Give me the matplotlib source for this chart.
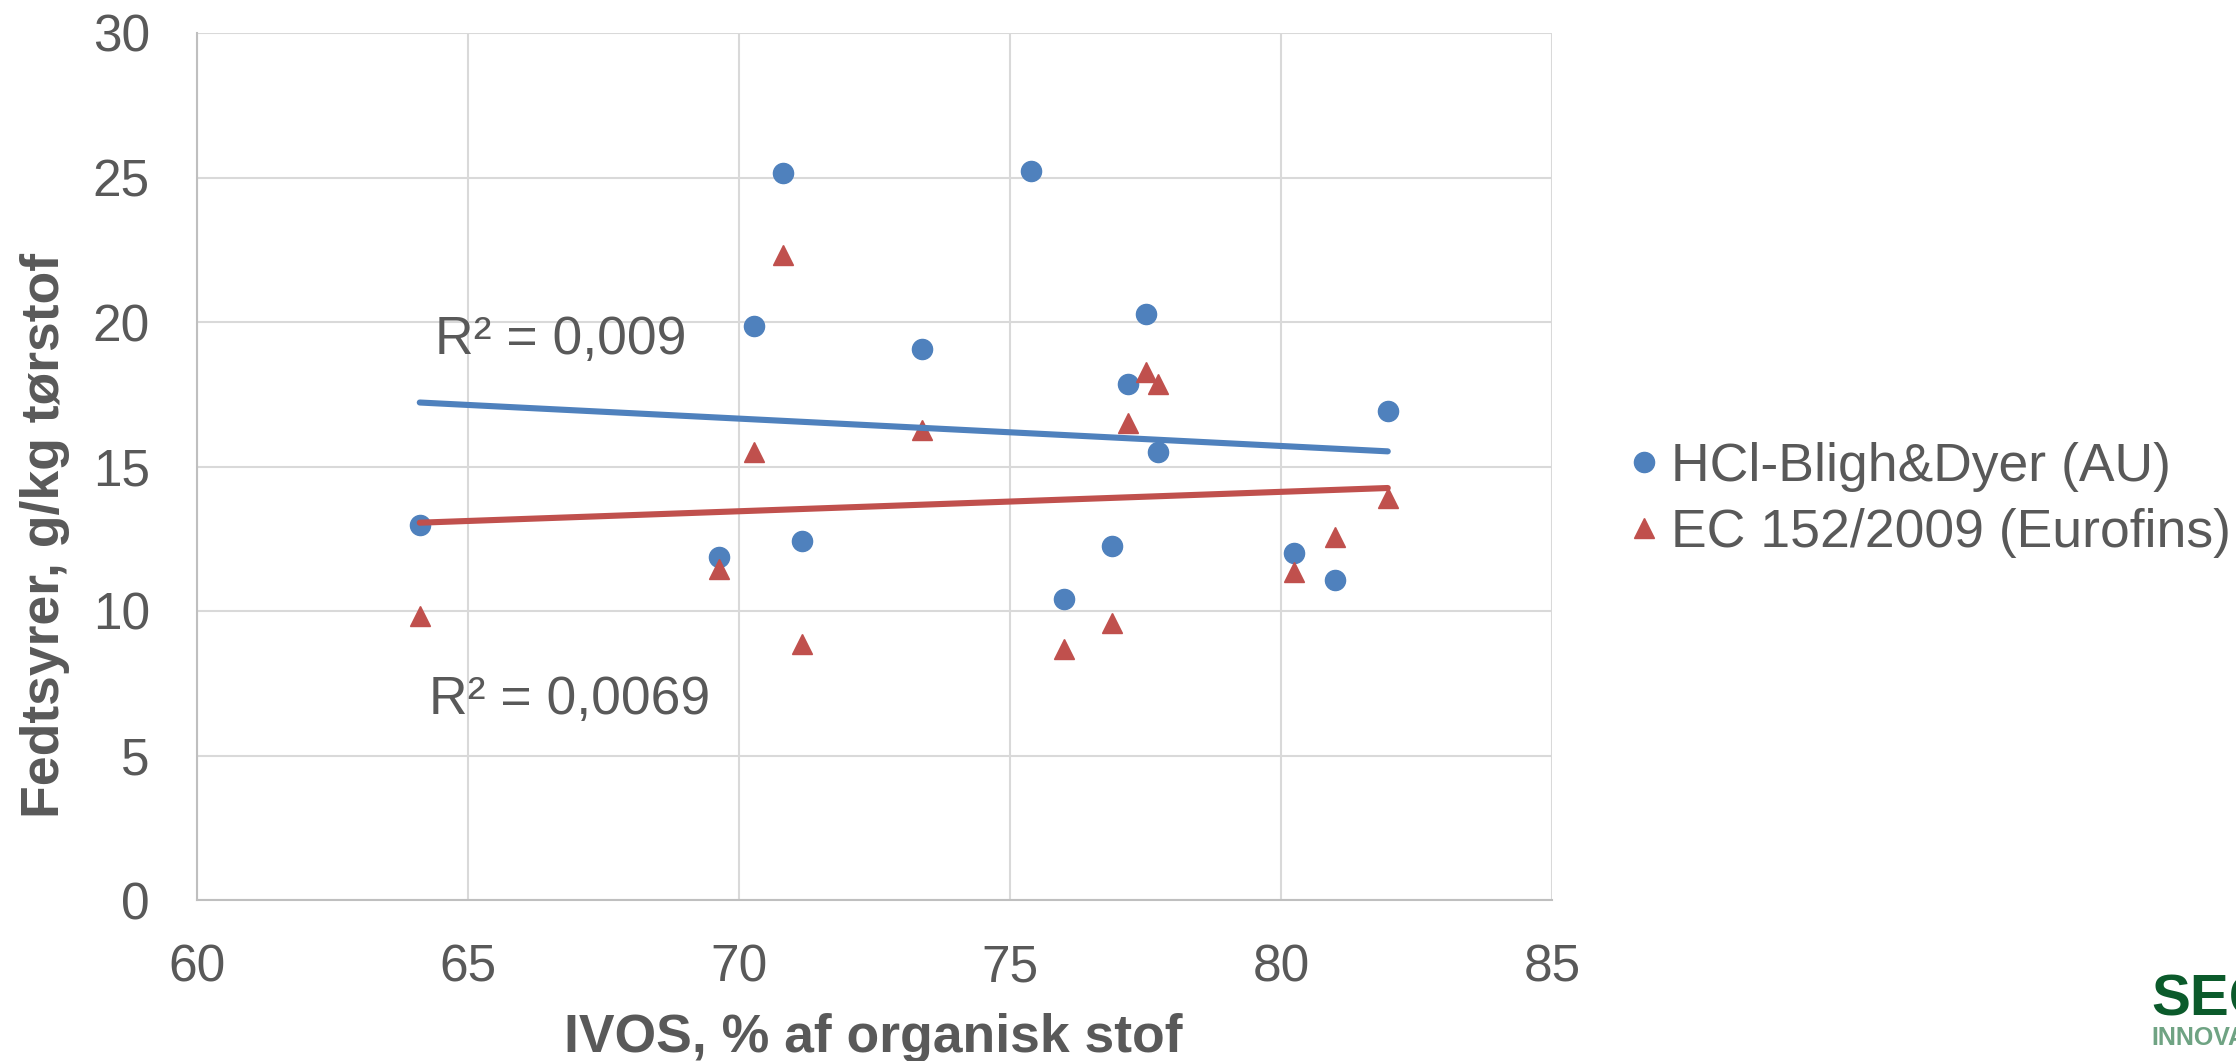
import numpy as np
import matplotlib
matplotlib.use("Agg")
import matplotlib.pyplot as plt

plt.rcParams['font.family'] = ['Liberation Sans', 'DejaVu Sans']

# IVOS (% of organic matter) for each sample
ivos = [64.11, 69.64, 70.27, 70.82, 71.16, 73.38, 75.38, 76.00,
        76.89, 77.17, 77.50, 77.73, 80.24, 80.99, 81.97]
# fatty acids, g/kg dry matter
hcl_bligh = [12.98, 11.86, 19.87, 25.17, 12.41, 19.05, 25.23, 10.43,
             12.26, 17.87, 20.28, 15.51, 12.02, 11.06, 16.92]
# EC 152/2009 has no value for the 75.38 sample
ec152 = [9.81, 11.46, 15.50, 22.32, 8.85, 16.25, np.nan, 8.69,
         9.57, 16.49, 18.28, 17.84, 11.35, 12.56, 13.91]

labels = ['HCl-Bligh&Dyer (AU)', 'EC 152/2009 (Eurofins)']
r2_text = ['R² = 0,009', 'R² = 0,0069']

blue = '#4F81BD'
red = '#C0504D'
grey = '#595959'
FS = 37
FS_BIG = 38.5

W, H = 2236, 1061
fig = plt.figure(figsize=(W / 100, H / 100), dpi=100)
ax = fig.add_axes([197 / W, 1 - 900 / H, (1552 - 197) / W, (900 - 33) / H])

x = np.array(ivos)
y1 = np.array(hcl_bligh)
y2 = np.array(ec152)

ax.plot(x, y1, 'o', ls='none', color=blue, ms=14.5, label=labels[0], zorder=3)
ax.plot(x, y2, '^', ls='none', color=red, ms=14.5, label=labels[1], zorder=3)

# linear trend lines
for yy, c in [(y1, blue), (y2, red)]:
    m = ~np.isnan(yy)
    k, b = np.polyfit(x[m], yy[m], 1)
    xs = np.array([x[m].min(), x[m].max()])
    ax.plot(xs, k * xs + b, color=c, lw=4.4, solid_capstyle='round', zorder=4)

ax.text(64.39, 18.89, r2_text[0], fontsize=FS_BIG, color=grey, ha='left', va='baseline')
ax.text(64.28, 6.44, r2_text[1], fontsize=FS_BIG, color=grey, ha='left', va='baseline')

ax.set_xlim(60, 85)
ax.set_ylim(0, 30)
ax.set_xticks(np.arange(60, 86, 5))
ax.set_yticks(np.arange(0, 31, 5))
ax.grid(True, color='#d9d9d9', lw=1.5)
ax.set_axisbelow(True)
for s in ['top', 'right']:
    ax.spines[s].set_visible(False)
for s in ['left', 'bottom']:
    ax.spines[s].set_color('#bfbfbf')
    ax.spines[s].set_linewidth(1.5)
ax.tick_params(axis='both', length=0, labelsize=FS, labelcolor=grey)
ax.tick_params(axis='y', pad=34)
ax.tick_params(axis='x', pad=31)

fig.text(873 / W, 1 - 1052 / H, 'IVOS, % af organisk stof', fontsize=FS_BIG,
         fontweight='bold', color=grey, ha='center', va='baseline')
fig.text(45 / W, 1 - 535 / H, 'Fedtsyrer, g/kg tørstof', fontsize=FS_BIG,
         fontweight='bold', color=grey, ha='center', va='center', rotation=90)

fig.legend(loc='center left', bbox_to_anchor=(1628 / W, 1 - 500 / H),
           frameon=False, fontsize=FS_BIG, labelcolor=grey, borderpad=0,
           borderaxespad=0, handlelength=0.6, handletextpad=0.2,
           labelspacing=0.3, markerscale=1.0)

# logo, cut by the right edge
fig.text(2151 / W, 1 - 1015 / H, 'SEGES', fontsize=42, fontweight='bold',
         color='#0b5a2b', ha='left', va='baseline')
fig.text(2151 / W, 1 - 1045 / H, 'INNOVATION', fontsize=18, fontweight='bold',
         color='#6fa383', ha='left', va='baseline')

fig.savefig('out.png', dpi=100)
